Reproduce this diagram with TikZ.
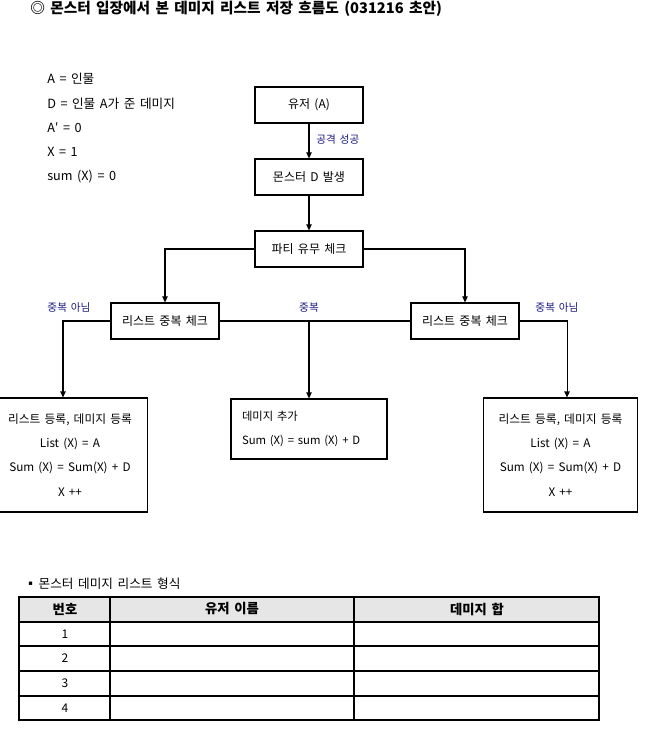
\documentclass[tikz,border=0pt]{standalone}
\usepackage{fontspec}
\setmainfont[WordSpace=1.6]{Noto Sans CJK KR}
\newfontfamily\symfont{DejaVu Sans}
\usetikzlibrary{arrows.meta}
\definecolor{labelblue}{RGB}{25,25,125}
\definecolor{headgray}{RGB}{230,230,230}
\tikzset{
	flowbox/.style={rectangle, draw=black, line width=0.8pt, minimum width=81pt, minimum height=27pt, font=\fontsize{9pt}{11pt}\selectfont},
	regbox/.style={rectangle, draw=black, line width=0.8pt, minimum width=116pt, minimum height=85.5pt, align=center, font=\fontsize{8.8pt}{18.2pt}\selectfont},
	note/.style={anchor=west, inner sep=0pt, font=\fontsize{9.5pt}{11pt}\selectfont},
	branch/.style={text=labelblue, inner sep=0pt, font=\fontsize{8pt}{10pt}\selectfont},
	flow/.style={line width=0.8pt, -{Triangle[length=4.5pt, width=4pt]}},
	cell/.style={inner sep=0pt, font=\fontsize{9pt}{11pt}\selectfont}
}
\begin{document}
\begin{tikzpicture}[x=0.75pt, y=-0.75pt]
	\useasboundingbox (0,0) rectangle (655,737);
	\node[anchor=west, inner sep=0pt, font=\fontsize{11pt}{13pt}\selectfont\bfseries](title) at (30,9){◎ 몬스터 입장에서 본 데미지 리스트 저장 흐름도 (031216 초안)};
	% definitions
	\node[note](defA) at (47,79){A = 인물};
	\node[note](defD) at (47,104){D = 인물 A가 준 데미지};
	\node[note](defAp) at (47,128){A′ = 0};
	\node[note](defX) at (47,152){X = 1};
	\node[note](defSum) at (47,177){sum (X) = 0};
	% flow
	\node[flowbox](user) at (309,105){유저 (A)};
	\node[flowbox](monster) at (309,177){몬스터 D 발생};
	\node[flowbox](party) at (309,249){파티 유무 체크};
	\node[flowbox](chkL) at (165,321){리스트 중복 체크};
	\node[flowbox](chkR) at (465,321){리스트 중복 체크};
	\node[regbox](regL) at (70,455){리스트 등록, 데미지 등록\\List (X) = A\\Sum (X) = Sum(X) + D\\X ++};
	\node[rectangle, draw=black, line width=0.8pt, minimum width=117pt, minimum height=45pt, text width=100.5pt, inner sep=8.25pt, align=left, font=\fontsize{8.5pt}{18pt}\selectfont](add) at (309,429){데미지 추가\\Sum (X) = sum (X) + D};
	\node[regbox](regR) at (560.5,455){리스트 등록, 데미지 등록\\List (X) = A\\Sum (X) = Sum(X) + D\\X ++};
	\node[branch, anchor=west](hit) at (316,139){공격 성공};
	\node[branch](noDupL) at (69,308){중복 아님};
	\node[branch](dup) at (309,308){중복};
	\node[branch](noDupR) at (557,308){중복 아님};
	\draw[flow](user) -- (monster);
	\draw[flow](monster) -- (party);
	\draw[flow](party.west) -| (chkL.north);
	\draw[flow](party.east) -| (chkR.north);
	\draw[flow](chkL.west) -| ([xshift=-5.25pt]regL.north);
	\draw[flow](chkR.east) -| ([xshift=4.9pt]regR.north);
	\draw[line width=0.8pt](chkL.east) -- (chkR.west);
	\draw[flow](chkL.east -| add.north) -- (add.north);
	% table
	\node[anchor=west, inner sep=0pt, font=\fontsize{9.5pt}{11pt}\selectfont](tabTitle) at (28,584){\raisebox{2.2pt}{\symfont\fontsize{5pt}{6pt}\selectfont ▪}\hspace{1pt} 몬스터 데미지 리스트 형식};
	\fill[headgray] (19,597) rectangle (599,622);
	\draw[line width=0.8pt] (19,597) rectangle (599,720);
	\draw[line width=0.8pt] (110,597) -- (110,720);
	\draw[line width=0.8pt] (354,597) -- (354,720);
	\draw[line width=0.8pt] (19,622) -- (599,622);
	\draw[line width=0.8pt] (19,646) -- (599,646);
	\draw[line width=0.8pt] (19,671) -- (599,671);
	\draw[line width=0.8pt] (19,696) -- (599,696);
	\node[cell, font=\fontsize{10pt}{12pt}\selectfont\bfseries](hNo) at (65,609){번호};
	\node[cell, font=\fontsize{10pt}{12pt}\selectfont\bfseries](hName) at (232,609){유저 이름};
	\node[cell, font=\fontsize{10pt}{12pt}\selectfont\bfseries](hSum) at (477,609){데미지 합};
	\node[cell](r1) at (65,634){1};
	\node[cell](r2) at (65,658.5){2};
	\node[cell](r3) at (65,683.5){3};
	\node[cell](r4) at (65,708){4};
\end{tikzpicture}
\end{document}
